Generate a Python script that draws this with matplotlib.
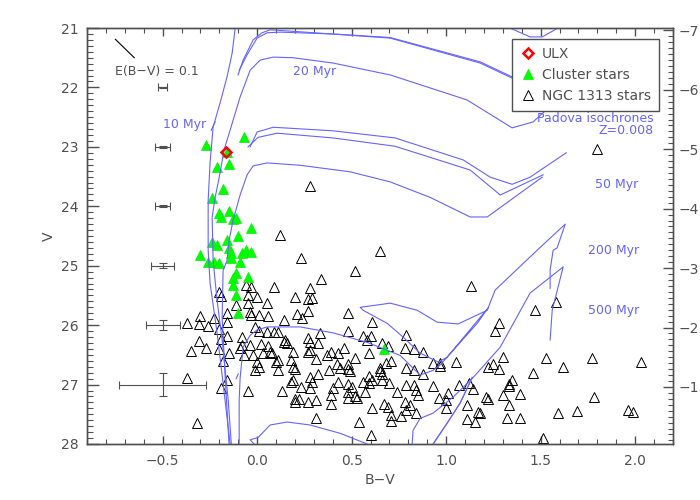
import matplotlib
matplotlib.use("Agg")
import matplotlib.pyplot as plt
from matplotlib.ticker import MultipleLocator
from matplotlib.lines import Line2D

GRAY = '#505050'
ISO = '#6464ff'
DM = 28.04   # V - M_V offset used for the right hand axis

# NGC 1313 field stars (B-V, V)
bv_field = [0.23, 0.34, 0.09, 0.28, 0.20, 0.27, 0.29, 0.05, -0.06, -0.03, -0.20, -0.19, -0.05, 0.00,
            -0.11, -0.05, -0.04, -0.03, 0.01, 0.06, -0.16, -0.30, -0.37, -0.31, -0.26, -0.23, -0.16,
            0.14, 0.21, 0.24, 0.27, -0.20, -0.01, 0.01, 0.05, 0.09, 0.11, 0.15, 0.14, 0.16, 0.27, 0.28,
            0.32, 0.33, -0.16, -0.19, -0.31, -0.08, -0.04, -0.08, -0.09, 0.02, 0.06, -0.35, -0.27,
            -0.20, -0.15, -0.07, -0.02, 0.03, 0.07, 0.08, 0.19, 0.27, 0.28, 0.37, 0.39, -0.18, 0.00,
            0.01, 0.11, 0.10, 0.18, 0.31, -0.01, 0.11, 0.19, 0.20, 0.38, 0.32, 0.28, 0.19, -0.37, -0.16,
            -0.19, -0.05, 0.13, 0.18, 0.23, 0.28, 0.29, 0.40, 0.39, 0.20, 0.20, 0.22, 0.27, 0.31, 0.39,
            -0.32, 0.31,
            0.65, 0.52, 1.13, 0.48, 0.61, 0.48, 0.56, 0.60, 0.58, 0.79, 0.66, 0.69, 0.78, 0.83, 0.88,
            0.46, 0.43, 0.59, 0.52, 0.71, 0.68, 0.93, 0.97, 0.97, 1.05, 1.22, 0.42, 0.48, 0.44, 0.48,
            0.65, 0.65, 0.66, 0.79, 0.83, 0.88, 0.49, 0.59, 0.66, 0.43, 0.48, 0.50, 0.56, 0.59, 0.61,
            0.70, 0.74, 0.79, 0.83, 0.84, 0.85, 0.93, 1.01, 1.07, 1.12, 1.14, 0.57, 0.52, 0.48, 0.48,
            0.53, 0.96, 1.00, 1.22, 1.11, 0.67, 0.69, 0.78, 0.81, 0.61, 0.79, 0.84, 0.76, 0.71, 0.71,
            1.00, 1.17, 1.11, 1.15, 0.54, 0.60,
            1.47, 1.58, 1.28, 1.26, 1.30, 1.25, 1.28, 1.53, 1.62, 1.46, 1.77, 2.03, 1.35, 1.33, 1.33,
            1.30, 1.39, 1.21, 1.33, 1.18, 1.32, 1.39, 1.59, 1.69, 1.78, 1.96, 1.99, 1.51,
            0.12, 0.28, 1.80]
v_field = [24.87, 25.23, 25.36, 25.38, 25.53, 25.56, 25.55, 25.63, 25.33, 25.36, 25.44, 25.51, 25.49, 25.53,
           25.66, 25.63, 25.78, 25.83, 25.83, 25.85, 25.80, 25.85, 25.97, 25.98, 26.02, 25.88, 25.95,
           25.92, 25.81, 25.88, 25.76, 26.07, 26.03, 26.10, 26.12, 26.12, 26.12, 26.25, 26.29, 26.30, 26.22, 26.29,
           26.30, 26.13, 26.19, 26.24, 26.27, 26.20, 26.34, 26.34, 26.39, 26.32, 26.35, 26.44, 26.39,
           26.40, 26.47, 26.51, 26.51, 26.47, 26.45, 26.47, 26.45, 26.45, 26.42, 26.51, 26.45, 26.61, 26.62,
           26.71, 26.59, 26.62, 26.59, 26.57, 26.76, 26.76, 26.71, 26.74, 26.76, 26.82, 26.88, 26.93, 26.89, 26.93,
           27.06, 27.11, 27.11, 26.96, 27.04, 27.06, 26.96, 27.06, 27.18, 27.25, 27.30, 27.25, 27.30, 27.26, 27.33,
           27.65, 27.57,
           24.75, 25.09, 25.34, 25.80, 25.95, 26.10, 26.19, 26.19, 26.25, 26.17, 26.30, 26.35, 26.39, 26.40, 26.45,
           26.39, 26.47, 26.47, 26.56, 26.61, 26.64, 26.64, 26.64, 26.69, 26.62, 26.71, 26.66, 26.66, 26.72, 26.74,
           26.72, 26.77, 26.82, 26.72, 26.76, 26.82, 26.77, 26.86, 26.93, 26.96, 26.99, 27.04, 26.96, 26.98, 26.93,
           26.98, 27.13, 27.01, 27.01, 27.09, 27.18, 27.03, 27.14, 27.01, 26.98, 27.08, 27.13, 27.20, 27.13, 27.23,
           27.23, 27.23, 27.26, 27.25, 27.35, 27.33, 27.38, 27.30, 27.35, 27.40, 27.43, 27.48, 27.53, 27.52, 27.62,
           27.40, 27.46, 27.58, 27.63, 27.63, 27.85,
           25.75, 25.61, 25.97, 26.10, 26.54, 26.66, 26.74, 26.56, 26.71, 26.81, 26.56, 26.62, 26.93, 26.99, 27.03,
           27.18, 27.16, 27.21, 27.35, 27.48, 27.57, 27.57, 27.48, 27.45, 27.21, 27.43, 27.46, 27.90,
           24.48, 23.66, 23.04]

# cluster stars
bv_cluster = [-0.27, -0.07, -0.16, -0.21, -0.15, -0.18, -0.24, -0.20, -0.15, -0.19, -0.13, -0.11,
              -0.03, -0.10, -0.24, -0.21, -0.16, -0.15, -0.14, -0.08, -0.06, -0.03, -0.30, -0.26,
              -0.23, -0.20, -0.14, -0.09, -0.11, -0.05, -0.13, -0.13, -0.11, -0.10, 0.67]
v_cluster = [22.97, 22.84, 23.09, 23.34, 23.29, 23.71, 23.86, 24.11, 24.08, 24.18, 24.22, 24.20,
             24.37, 24.50, 24.60, 24.65, 24.57, 24.70, 24.79, 24.79, 24.74, 24.77, 24.82, 24.94,
             24.94, 24.96, 24.87, 24.94, 25.12, 25.19, 25.21, 25.33, 25.49, 25.80, 26.40]

# ULX counterpart
bv_ulx = [-0.164]
v_ulx = [23.09]

# typical photometric errors at B-V = -0.5
err_bv = [-0.5, -0.5, -0.5, -0.5, -0.5, -0.5]
err_v = [22, 23, 24, 25, 26, 27]
err_xerr = [0.025, 0.04, 0.04, 0.06, 0.09, 0.23]
err_yerr = [0.01, 0.015, 0.02, 0.04, 0.08, 0.2]

# reddening vector
redd_bv0, redd_v0, ebv, r_v = -0.75, 21.19, 0.1, 3.1

# Padova isochrones, Z=0.008
iso10_bv = [-0.14, -0.143, -0.18, -0.212, -0.249, -0.259, -0.259, -0.249, -0.233, -0.196, -0.159, -0.132, -0.116, -0.111]
iso10_v = [28.3, 28.0, 26.98, 26.13, 25.29, 24.74, 23.9, 23.27, 22.67, 22.26, 21.82, 21.42, 21.0, 20.8]
iso10_hook_bv = [-0.243, -0.222]
iso10_hook_v = [22.72, 22.58]
iso10_rsg_bv = [1.30, 1.323, 1.444, 1.508, 1.603, 1.62]
iso10_rsg_v = [20.9, 20.98, 21.15, 21.15, 20.98, 20.9]

iso15a_bv = [-0.101, -0.074, -0.021, 0.026, 0.069, 0.30, 0.704, 1.18, 1.407, 1.481, 1.534, 1.619, 1.656]
iso15a_v = [21.79, 21.54, 21.2, 21.08, 21.03, 21.08, 21.17, 21.59, 21.93, 22.08, 22.13, 21.99, 21.88]
iso15b_bv = [-0.095, -0.053, 0.0, 0.053, 0.122, 0.40, 0.704, 1.18, 1.40, 1.47, 1.50]
iso15b_v = [21.71, 21.45, 21.17, 21.08, 21.07, 21.10, 21.16, 21.57, 21.90, 22.03, 22.07]

iso20_bv = [-0.13, -0.153, -0.185, -0.212, -0.233, -0.238, -0.222, -0.196, -0.175, -0.143, -0.09, -0.037,
            0.016, 0.085, 0.19, 0.402, 0.704, 1.11, 1.349, 1.46, 1.646]
iso20_v = [28.3, 27.26, 26.25, 25.58, 24.91, 24.18, 23.85, 23.44, 23.05, 22.72, 22.16, 21.71,
           21.54, 21.49, 21.5, 21.59, 21.79, 22.21, 22.68, 22.58, 22.04]

iso30_bv = [-0.037, 0.0, 0.085, 0.402, 0.73, 1.09, 1.233, 1.349, 1.444, 1.635]
iso30_v = [23.0, 22.75, 22.67, 22.73, 22.85, 23.22, 23.51, 23.63, 23.51, 23.10]
iso40_bv = [-0.048, 0.005, 0.106, 0.402, 0.73, 1.127, 1.286, 1.513]
iso40_v = [23.0, 22.84, 22.77, 22.85, 22.99, 23.39, 23.81, 23.47]

iso50_bv = [-0.143, -0.169, -0.185, -0.18, -0.159, -0.148, -0.127, -0.09, -0.053, -0.021, 0.053, 0.228,
            0.492, 0.704, 0.915, 1.127, 1.217, 1.508]
iso50_v = [28.3, 26.88, 25.87, 25.08, 24.91, 24.57, 24.23, 23.81, 23.47, 23.32, 23.27, 23.31,
           23.42, 23.59, 23.85, 24.18, 24.18, 23.51]

iso200_bv = [-0.095, -0.095, -0.09, -0.074, -0.037, 0.0, 0.053, 0.228, 0.402, 0.582, 0.757, 0.862, 0.931,
             0.968, 1.164, 1.222, 1.005, 0.958, 0.862, 0.772, 0.688, 0.561, 0.545, 0.704, 0.847, 0.952,
             1.063, 1.217, 1.259, 1.481, 1.63, 1.587, 1.566, 1.55, 1.55]
iso200_v = [28.3, 27.26, 26.89, 26.37, 26.17, 26.08, 26.03, 26.03, 26.13, 26.29, 26.51, 26.84, 26.76,
            26.67, 25.97, 25.71, 26.54, 26.62, 26.47, 26.2, 25.97, 25.75, 25.7, 25.63, 25.75, 25.95,
            25.98, 25.75, 25.41, 24.74, 24.3, 24.7, 24.74, 25.07, 25.38]
iso200_hook_bv = [-0.111, -0.100]
iso200_hook_v = [26.90, 26.82]

iso500_bv = [-0.01, -0.037, 0.005, 0.069, 0.159, 0.28, 0.439, 0.582, 0.70, 0.80, 0.82, 0.825, 0.862,
             0.931, 1.037, 1.143, 1.286, 1.444, 1.619, 1.561, 1.55]
iso500_v = [28.02, 27.93, 27.89, 27.68, 27.63, 27.68, 27.82, 28.0, 28.2, 28.3, 28.0, 27.77, 27.57,
            27.48, 27.21, 26.88, 26.37, 25.46, 25.02, 25.75, 26.25]
iso1g_bv = [0.90, 0.931, 1.005, 1.074, 1.138]
iso1g_v = [28.2, 28.0, 27.65, 27.31, 26.88]

fig = plt.figure(figsize=(7, 5), dpi=100)
ax = fig.add_axes([87 / 700, 56 / 500, 586 / 700, 416 / 500])

isochrones = [(iso10_bv, iso10_v), (iso10_hook_bv, iso10_hook_v), (iso10_rsg_bv, iso10_rsg_v),
              (iso15a_bv, iso15a_v), (iso15b_bv, iso15b_v), (iso20_bv, iso20_v),
              (iso30_bv, iso30_v), (iso40_bv, iso40_v), (iso50_bv, iso50_v),
              (iso200_bv, iso200_v), (iso200_hook_bv, iso200_hook_v),
              (iso500_bv, iso500_v), (iso1g_bv, iso1g_v), (iso1g_bv, iso1g_v)]
for bv, v in isochrones:
    ax.plot(bv, v, color=ISO, lw=0.8, zorder=3)

ax.plot(bv_field, v_field, ls='none', marker='^', ms=7, mfc='none', mec='black', mew=0.7, zorder=2)
ax.plot(bv_cluster, v_cluster, ls='none', marker='^', ms=7, mfc='#00ff00', mec='#00ee00', mew=0.5, zorder=2.5)
ax.plot(bv_ulx, v_ulx, ls='none', marker='D', ms=5, mfc='none', mec='red', mew=1.8, zorder=5)

ax.errorbar(err_bv, err_v, xerr=err_xerr, yerr=err_yerr, fmt='none', ecolor=GRAY,
            elinewidth=0.8, capsize=3, capthick=0.8)
ax.plot([redd_bv0, redd_bv0 + ebv], [redd_v0, redd_v0 + r_v * ebv], color='black', lw=0.8)
ax.text(redd_bv0, 21.74, 'E(B\u2212V) = 0.1', color=GRAY, fontsize=9, ha='left', va='center')

iso_kw = dict(color=ISO, fontsize=9, va='center')
ax.text(-0.50, 22.63, '10 Myr', ha='left', **iso_kw)
ax.text(0.19, 21.74, '20 Myr', ha='left', **iso_kw)
ax.text(1.79, 23.63, '50 Myr', ha='left', **iso_kw)
ax.text(1.75, 24.74, '200 Myr', ha='left', **iso_kw)
ax.text(1.75, 25.75, '500 Myr', ha='left', **iso_kw)
ax.text(2.10, 22.53, 'Padova isochrones', ha='right', **iso_kw)
ax.text(2.10, 22.73, 'Z=0.008', ha='right', **iso_kw)

ax.set_xlim(-0.9, 2.2)
ax.set_ylim(28, 21)
ax.set_xlabel('B\u2212V', color=GRAY, fontsize=10, labelpad=4)
ax.set_ylabel('V', color=GRAY, fontsize=10, labelpad=4)
ax.xaxis.set_major_locator(MultipleLocator(0.5))
ax.xaxis.set_minor_locator(MultipleLocator(0.1))
ax.yaxis.set_major_locator(MultipleLocator(1))
ax.yaxis.set_minor_locator(MultipleLocator(0.1))
ax.tick_params(axis='x', which='both', direction='in', top=True, colors=GRAY, labelsize=10, pad=7)
ax.tick_params(axis='x', which='major', length=6, width=1)
ax.tick_params(axis='x', which='minor', length=3.5, width=0.8)
ax.tick_params(axis='y', which='both', direction='in', right=False, colors=GRAY, labelsize=10, pad=6)
ax.tick_params(axis='y', which='major', length=8.5, width=1)
ax.tick_params(axis='y', which='minor', length=4, width=0.8)
ax.xaxis.set_major_formatter(plt.FuncFormatter(lambda x, p: f'{x:.1f}'.replace('-', '\u2212')))

ax2 = ax.twinx()
ax2.set_ylim(28 - DM, 21 - DM)
ax2.yaxis.set_major_locator(MultipleLocator(1))
ax2.yaxis.set_minor_locator(MultipleLocator(0.1))
ax2.tick_params(axis='y', which='both', direction='in', colors=GRAY, labelsize=10, pad=4)
ax2.tick_params(axis='y', which='major', length=7, width=1)
ax2.tick_params(axis='y', which='minor', length=3.5, width=0.8)
for a in (ax, ax2):
    for s in a.spines.values():
        s.set_color(GRAY)
        s.set_linewidth(1)

handles = [Line2D([], [], ls='none', marker='D', ms=5, mfc='none', mec='red', mew=1.8),
           Line2D([], [], ls='none', marker='^', ms=7, mfc='#00ff00', mec='#00ee00', mew=0.5),
           Line2D([], [], ls='none', marker='^', ms=7, mfc='none', mec='black', mew=0.7)]
leg = ax2.legend(handles, ['ULX', 'Cluster stars', 'NGC 1313 stars'], loc='upper right',
                 bbox_to_anchor=(0.976, 0.974), borderaxespad=0, fancybox=False, framealpha=1,
                 edgecolor=GRAY, fontsize=10, handlelength=1.0, handletextpad=0.5,
                 labelspacing=0.5, borderpad=0.6)
leg.get_frame().set_linewidth(1)
for t in leg.get_texts():
    t.set_color(GRAY)

fig.savefig('out.png', dpi=100)
